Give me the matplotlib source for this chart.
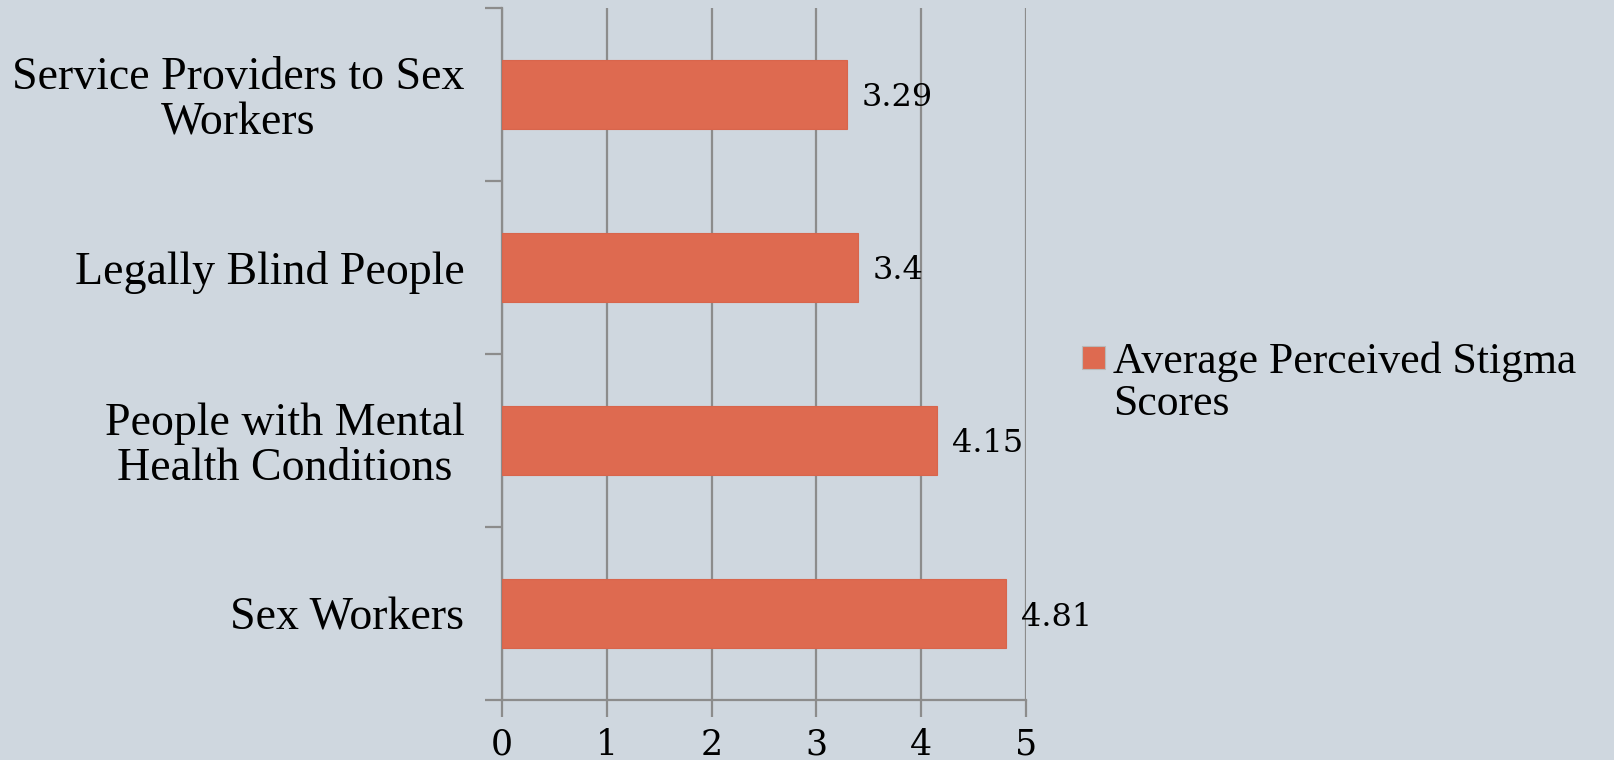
import matplotlib
matplotlib.use('Agg')
import matplotlib.pyplot as plt
from matplotlib.patches import Rectangle

categories = ['Sex Workers',
              'People with Mental\nHealth Conditions',
              'Legally Blind People',
              'Service Providers to Sex\nWorkers']
scores = [4.81, 4.15, 3.4, 3.29]
score_labels = ['4.81', '4.15', '3.4', '3.29']
xticks = [0, 1, 2, 3, 4, 5]
series_name = 'Average Perceived Stigma\nScores'

bg = '#CFD7DF'
bar_color = '#DE6A50'
grid_color = '#8C8C8C'
text_font = ['Liberation Serif', 'DejaVu Serif']
num_font = ['DejaVu Serif']

W, H = 1615, 760
fig = plt.figure(figsize=(W / 100, H / 100), dpi=100, facecolor=bg)
ax = fig.add_axes([502 / W, 1 - 700 / H, 524 / W, 692 / H], facecolor=bg)

ypos = range(len(categories))
ax.barh(ypos, scores, height=0.4, color=bar_color, edgecolor='#D8654C',
        linewidth=0.8, zorder=3)

for y, v, lab in zip(ypos, scores, score_labels):
    ax.text(v + 0.14, y, lab, va='center_baseline', ha='left', fontsize=23,
            family=num_font, color='black')

ax.set_xlim(0, 5)
ax.set_ylim(-0.5, len(categories) - 0.5)
ax.set_xticks(xticks)
ax.set_xticklabels([str(t) for t in xticks], family=num_font, fontsize=25)
ax.xaxis.grid(True, color=grid_color, linewidth=1.6, zorder=0)

# category ticks at boundaries, labels centred on bars
ax.set_yticks([y - 0.5 for y in ypos] + [len(categories) - 0.5])
ax.set_yticklabels([])
ax.set_yticks(list(ypos), minor=True)
ax.set_yticklabels(categories, minor=True, family=text_font, fontsize=33)
for t in ax.get_yticklabels(minor=True):
    t.set_multialignment('center')
    t.set_linespacing(1.07)
ax.tick_params(axis='y', which='minor', length=0, pad=27)
ax.tick_params(axis='y', which='major', length=12, width=1.6, color=grid_color)
ax.tick_params(axis='x', length=12, width=1.6, color=grid_color, pad=8)

for s in ['top', 'right']:
    ax.spines[s].set_visible(False)
for s in ['left', 'bottom']:
    ax.spines[s].set_color(grid_color)
    ax.spines[s].set_linewidth(1.6)

# legend: swatch next to first line of the series name
fig.patches.append(Rectangle((1082 / W, 1 - 369 / H), 23 / W, 23 / H,
                             transform=fig.transFigure, facecolor=bar_color,
                             edgecolor='#B9B9B9', linewidth=0.8))
fig.text(1113 / W, 1 - 341 / H, series_name, ha='left', va='top',
         family=text_font, fontsize=31.5, linespacing=1.08)

fig.savefig('out.png', dpi=100, facecolor=bg)
